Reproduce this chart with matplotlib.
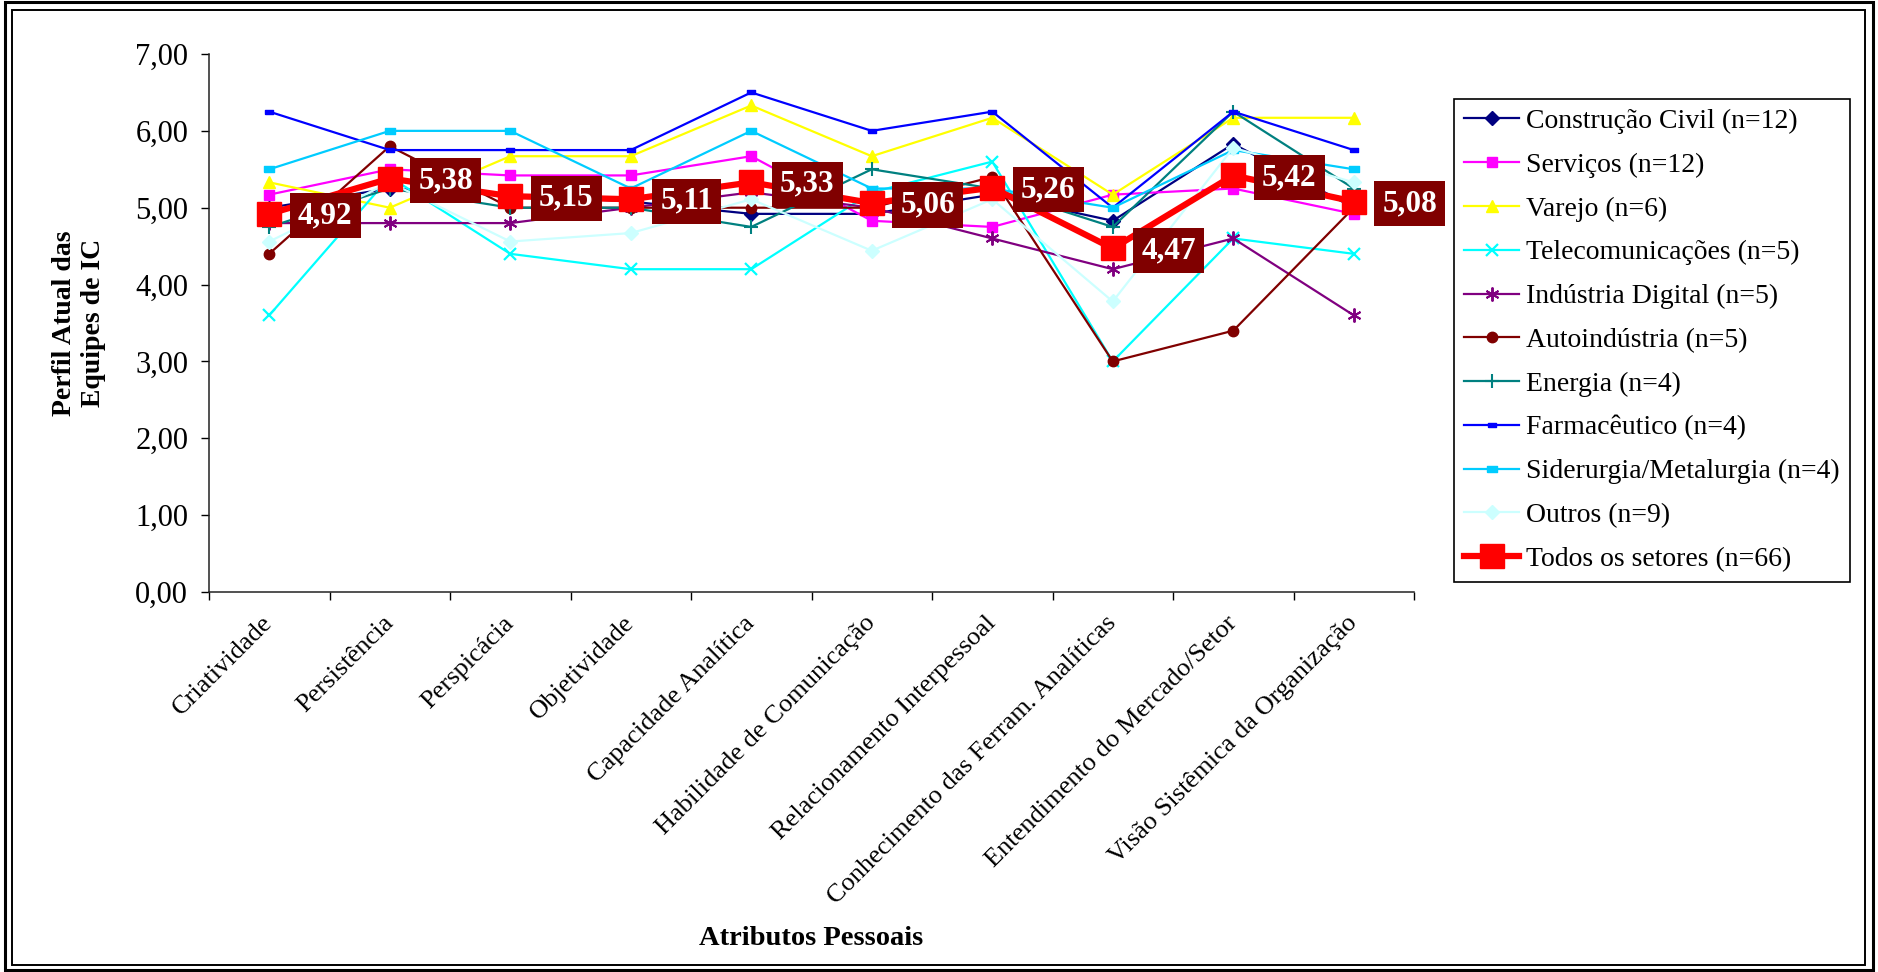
import matplotlib
matplotlib.use("Agg")
import matplotlib.pyplot as plt
import numpy as np
from matplotlib.patches import Rectangle

# Personal attributes (categories)
atributos = [
    "Criatividade", "Persistência", "Perspicácia", "Objetividade",
    "Capacidade Analítica", "Habilidade de Comunicação",
    "Relacionamento Interpessoal", "Conhecimento das Ferram. Analíticas",
    "Entendimento do Mercado/Setor", "Visão Sistêmica da Organização",
]

# Mean scores per sector
construcao_civil = [5.00, 5.25, 5.17, 5.08, 4.92, 4.92, 5.17, 4.83, 5.83, 5.00]
servicos         = [5.17, 5.50, 5.42, 5.42, 5.67, 4.83, 4.75, 5.17, 5.25, 4.92]
varejo           = [5.33, 5.00, 5.67, 5.67, 6.33, 5.67, 6.17, 5.17, 6.17, 6.17]
telecomunicacoes = [3.60, 5.40, 4.40, 4.20, 4.20, 5.20, 5.60, 3.00, 4.60, 4.40]
industria_digital = [4.80, 4.80, 4.80, 5.00, 5.20, 5.00, 4.60, 4.20, 4.60, 3.60]
autoindustria    = [4.40, 5.80, 5.00, 5.00, 5.00, 5.00, 5.40, 3.00, 3.40, 5.00]
energia          = [4.75, 5.25, 5.00, 5.00, 4.75, 5.50, 5.25, 4.75, 6.25, 5.25]
farmaceutico     = [6.25, 5.75, 5.75, 5.75, 6.50, 6.00, 6.25, 5.00, 6.25, 5.75]
siderurgia       = [5.50, 6.00, 6.00, 5.25, 6.00, 5.25, 5.25, 5.00, 5.75, 5.50]
outros           = [4.56, 5.33, 4.56, 4.67, 5.11, 4.44, 5.11, 3.78, 5.78, 5.33]
todos_setores    = [4.92, 5.38, 5.15, 5.11, 5.33, 5.06, 5.26, 4.47, 5.42, 5.08]

nomes = [
    "Construção Civil (n=12)", "Serviços (n=12)", "Varejo (n=6)",
    "Telecomunicações (n=5)", "Indústria Digital (n=5)", "Autoindústria (n=5)",
    "Energia (n=4)", "Farmacêutico (n=4)", "Siderurgia/Metalurgia (n=4)",
    "Outros (n=9)", "Todos os setores (n=66)",
]
y_ticks = [0, 1, 2, 3, 4, 5, 6, 7]

W, H = 1878, 972
fig = plt.figure(figsize=(W / 100, H / 100), dpi=100)
plt.rcParams["font.family"] = ["Liberation Serif", "DejaVu Serif"]

ax = fig.add_axes([209 / W, 1 - 592 / H, (1414 - 209) / W, (592 - 54) / H])

rect_marker = [(-1, -0.5), (1, -0.5), (1, 0.5), (-1, 0.5), (-1, -0.5)]

estilos = [
    dict(color="#000080", marker="D", ms=7),
    dict(color="#FF00FF", marker="s", ms=7.5),
    dict(color="#FFFF00", marker="^", ms=9),
    dict(color="#00FFFF", marker="x", ms=9, mew=1.6),
    dict(color="#800080", marker=(6, 2, 0), ms=10, mew=1.4),
    dict(color="#800000", marker="o", ms=7.5),
    dict(color="#008080", marker="+", ms=10, mew=1.5),
    dict(color="#0000FF", marker=rect_marker, ms=6),
    dict(color="#00CCFF", marker=rect_marker, ms=7.5),
    dict(color="#CCFFFF", marker="D", ms=7),
]
series = [construcao_civil, servicos, varejo, telecomunicacoes, industria_digital,
          autoindustria, energia, farmaceutico, siderurgia, outros]

x = np.arange(len(atributos))
handles = []
for vals, st, nome in zip(series, estilos, nomes):
    h, = ax.plot(x, vals, color=st["color"], lw=1.6, marker=st["marker"],
                 ms=st["ms"], mew=st.get("mew", 1), mec=st["color"], mfc=st["color"],
                 label=nome, zorder=3, clip_on=False)
    handles.append(h)

h, = ax.plot(x, todos_setores, color="#FF0000", lw=4.5, marker="s", ms=17,
             mfc="#FF0000", mec="#FF0000", label=nomes[-1], zorder=5, clip_on=False)
handles.append(h)

for xi, v in zip(x, todos_setores):
    ax.annotate(f"{v:.2f}".replace(".", ","), (xi, v), xytext=(56, -2),
                textcoords="offset pixels", ha="center", va="center",
                fontsize=22.5, fontweight="bold", color="white", zorder=6,
                bbox=dict(boxstyle="square,pad=0.26", fc="#800000", ec="none"))

ax.set_xlim(-0.5, 9.5)
ax.set_ylim(0, 7)
ax.set_yticks(y_ticks)
ax.set_yticklabels([f"{t:.2f}".replace(".", ",") for t in y_ticks], fontsize=22)
ax.tick_params(axis="y", direction="out", length=6, width=1, pad=9)

ax.set_xticks(np.arange(-0.5, 10, 1))
ax.set_xticklabels([])
ax.tick_params(axis="x", which="major", direction="out", length=6, width=1)
ax.set_xticks(x, minor=True)
ax.set_xticklabels(atributos, minor=True, rotation=45, ha="right", va="center",
                   rotation_mode="anchor", fontsize=19)
ax.tick_params(axis="x", which="minor", length=0, pad=20)

for s in ["top", "right"]:
    ax.spines[s].set_visible(False)
for s in ["left", "bottom"]:
    ax.spines[s].set_color("#222222")
    ax.spines[s].set_linewidth(1.1)

fig.text(79 / W, 1 - 323 / H, "Perfil Atual das\nEquipes de IC", rotation=90,
         ha="center", va="center", fontsize=20, fontweight="bold",
         multialignment="center", linespacing=1.2)
fig.text(811 / W, 1 - 938 / H, "Atributos Pessoais", ha="center", va="center",
         fontsize=20.5, fontweight="bold")

leg = fig.legend(handles=handles, loc="upper left",
                 bbox_to_anchor=(1454 / W, 1 - 99 / H), fontsize=20,
                 frameon=True, fancybox=False, framealpha=1, edgecolor="black",
                 handlelength=2.0, handletextpad=0.25, borderpad=0.35,
                 labelspacing=0.66, borderaxespad=0)
leg.get_frame().set_linewidth(1.2)

# double frame around the whole figure
fig.add_artist(Rectangle((5 / W, 2 / H), (W - 10) / W, (H - 4) / H,
                         transform=fig.transFigure, fill=False, ec="black", lw=2.2))
fig.add_artist(Rectangle((12 / W, 7 / H), (W - 25) / W, (H - 17) / H,
                         transform=fig.transFigure, fill=False, ec="black", lw=1.4))

fig.savefig("out.png", dpi=100)
